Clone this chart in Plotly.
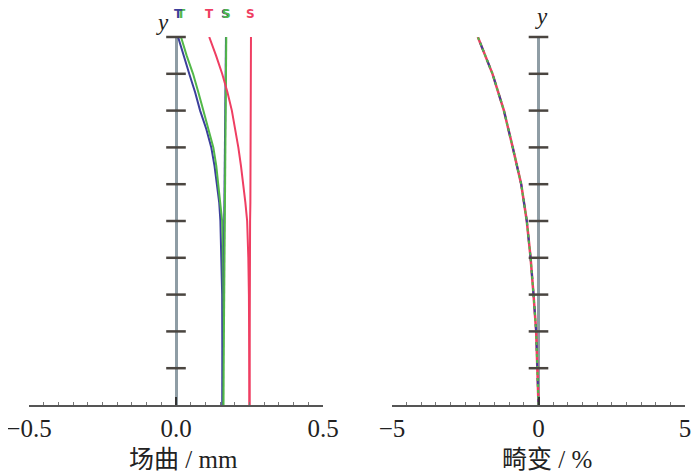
import plotly.graph_objects as go

# normalised field height (shared by every curve)
field = [0.0, 0.1, 0.2, 0.3, 0.4, 0.45, 0.5, 0.55, 0.6, 0.65, 0.7, 0.75, 0.8, 0.85, 0.9, 0.95, 1.0]

# field curvature, mm
blue_t = [0.158, 0.158, 0.158, 0.157, 0.154, 0.153, 0.151, 0.147, 0.140, 0.131, 0.120, 0.103, 0.082, 0.065, 0.045, 0.025, 0.007]
green_t = [0.161, 0.161, 0.161, 0.161, 0.160, 0.159, 0.157, 0.151, 0.145, 0.137, 0.127, 0.111, 0.093, 0.076, 0.058, 0.036, 0.017]
blue_s = [0.158, 0.159, 0.160, 0.162, 0.164, 0.164, 0.165, 0.165, 0.166, 0.166, 0.167, 0.167, 0.168, 0.168, 0.169, 0.169, 0.170]
green_s = [0.161, 0.162, 0.163, 0.164, 0.165, 0.165, 0.166, 0.166, 0.167, 0.167, 0.168, 0.168, 0.169, 0.169, 0.170, 0.170, 0.171]
red_t = [0.250, 0.250, 0.249, 0.248, 0.246, 0.244, 0.242, 0.236, 0.229, 0.221, 0.212, 0.202, 0.190, 0.175, 0.157, 0.136, 0.113]
red_s = [0.250, 0.250, 0.251, 0.251, 0.252, 0.252, 0.252, 0.253, 0.253, 0.253, 0.253, 0.254, 0.254, 0.254, 0.254, 0.255, 0.255]

# distortion, %
dist_field = [0.0, 0.1, 0.2, 0.3, 0.4, 0.5, 0.6, 0.7, 0.8, 0.9, 1.0]
distortion = [0.0, -0.04, -0.08, -0.17, -0.27, -0.40, -0.59, -0.88, -1.18, -1.57, -2.07]

y_ticks = [0.1, 0.2, 0.3, 0.4, 0.5, 0.6, 0.7, 0.8, 0.9, 1.0]

BLUE = "#3b3f9c"
GREEN = "#52b848"
RED = "#ef3e62"
SERIF = "Liberation Serif, Noto Sans CJK SC"

# the page body keeps its default 8px margin, so the figure is 8px smaller
W, H = 692, 468

def px(X):
    return (X - 8) / W

def py(Y):
    return 1 - (Y - 8) / H

fig = go.Figure()

def line(x, y, color, xa, ya, dash="solid", width=2):
    fig.add_trace(go.Scatter(x=x, y=y, mode="lines", xaxis=xa, yaxis=ya,
                             line=dict(color=color, width=width, dash=dash),
                             showlegend=False, hoverinfo="skip"))

# left panel: T and S curves
line(blue_t, field, BLUE, "x", "y")
line(green_t, field, GREEN, "x", "y")
line(blue_s, field, BLUE, "x", "y")
line(green_s, field, GREEN, "x", "y")
line(red_t, field, RED, "x", "y")
line(red_s, field, RED, "x", "y")

# right panel: distortion for the three wavelengths (overlapping)
line(distortion, dist_field, RED, "x2", "y2", width=2.5)
line(distortion, dist_field, BLUE, "x2", "y2", dash="dash", width=2)
line(distortion, dist_field, GREEN, "x2", "y2", dash="dot", width=2)

# ticks on the vertical (y) axes
for xa, ya in [("x", "y"), ("x2", "y2")]:
    fig.add_trace(go.Scatter(x=[0] * len(y_ticks), y=y_ticks, mode="markers",
                             xaxis=xa, yaxis=ya, cliponaxis=False,
                             marker=dict(symbol="line-ew", size=14,
                                         line=dict(color="#4a4540", width=2.5)),
                             showlegend=False, hoverinfo="skip"))

def xaxis_style(rng, vals, texts, domain, shift, anchor):
    return dict(domain=domain, range=rng, anchor=anchor, automargin=False,
                tickmode="array", tickvals=vals, ticktext=texts,
                showline=True, linecolor="#555555", linewidth=1.5,
                ticks="inside", ticklen=8, tickwidth=1.5, tickcolor="#333333",
                ticklabelshift=shift, ticklabeloverflow="allow",
                tickfont=dict(family=SERIF, size=25, color="#222222"),
                minor=dict(tickmode="linear", tick0=rng[0], dtick=(rng[1] - rng[0]) / 20,
                           ticks="inside", ticklen=3, tickwidth=1, tickcolor="#777777"),
                zeroline=True, zerolinecolor="#8f9da5", zerolinewidth=3,
                showgrid=False, fixedrange=True)

def yaxis_style(anchor):
    return dict(domain=[py(405), py(37)], range=[0, 1], anchor=anchor, automargin=False,
                visible=False, showgrid=False, zeroline=False, fixedrange=True)

fig.update_layout(
    template="none",
    width=W, height=H,
    margin=dict(l=0, r=0, t=0, b=0, pad=0),
    paper_bgcolor="white", plot_bgcolor="white",
    xaxis=xaxis_style([-0.5, 0.5], [-0.5, 0, 0.5], ["\u22120.5", "0.0", "0.5"], [px(29), px(323)], 0, "y"),
    xaxis2=xaxis_style([-5, 5], [-5, 0, 5], ["\u22125", "0", "5"], [px(392), px(685)], 0, "y2"),
    yaxis=yaxis_style("x"),
    yaxis2=yaxis_style("x2"),
)

def note(text, x, y, size=25, family=SERIF, color="#222222", xref="paper"):
    fig.add_annotation(text=text, xref=xref, yref="paper", x=x, y=y,
                       xanchor="center", yanchor="middle", showarrow=False,
                       font=dict(family=family, size=size, color=color))

# axis titles
note("场曲 / mm", px(183), py(459))
note("畸变 / %", px(547), py(459))

# italic y labels on top of the vertical axes
note("<i>y</i>", px(162), py(22), size=23)
note("<i>y</i>", px(541), py(16), size=23)

# T / S labels above the top of each curve
labels = [("T", green_t, GREEN), ("T", blue_t, BLUE), ("T", red_t, RED),
          ("S", blue_s, BLUE), ("S", green_s, GREEN), ("S", red_s, RED)]
for txt, series, color in labels:
    note("<b>" + txt + "</b>", series[-1], py(14), size=12, family="DejaVu Sans",
         color=color, xref="x")

fig.write_html("out.html")
